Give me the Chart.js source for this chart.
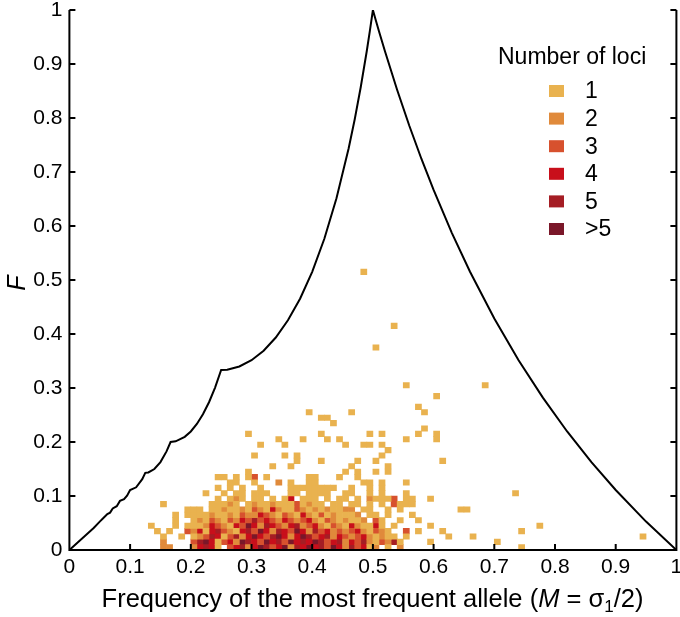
<!DOCTYPE html>
<html>
<head>
<meta charset="utf-8">
<script src="https://cdn.jsdelivr.net/npm/chart.js@4.4.1/dist/chart.umd.min.js"></script>
<style>
  html, body { margin: 0; padding: 0; background: #fff; }
  #wrap { position: relative; width: 680px; height: 617px; font-family: "Liberation Sans", Arial, sans-serif; color: #000; }
  #xTitle { position: absolute; left: 69px; width: 607px; top: 586px; text-align: center; font-size: 25.5px; line-height: 1; white-space: nowrap; }
  #xTitle sub { font-size: 17px; vertical-align: -5px; line-height: 0; }
  #yTitle { position: absolute; left: 3px; top: 270px; width: 26px; height: 26px; text-align: center; font-size: 25px; line-height: 26px; font-style: italic; transform: rotate(-90deg); }
</style>
</head>
<body>
<div id="wrap">
  <canvas id="chart" width="680" height="617"></canvas>
  <div id="xTitle">Frequency of the most frequent allele (<i>M</i> = σ<sub>1</sub>/2)</div>
  <div id="yTitle">F</div>
</div>
<script>
// ---- data ----
// left edges of the 0.01-wide bins used in the dense block
const mBins = [0.13,0.14,0.15,0.16,0.17,0.18,0.19,0.20,0.21,0.22,0.23,0.24,0.25,0.26,0.27,0.28,0.29,0.30,0.31,0.32,
               0.33,0.34,0.35,0.36,0.37,0.38,0.39,0.40,0.41,0.42,0.43,0.44,0.45,0.46,0.47,0.48,0.49,0.50,0.51,0.52,
               0.53,0.54,0.55,0.56,0.57,0.58,0.59,0.60,0.61,0.62];
// bottom edges of the bins, one per row of lociCounts
const fBins = [0.00,0.01,0.02,0.03,0.04,0.05,0.06,0.07,0.08,0.09,0.10,0.11,0.12,0.13];

// number of loci per bin (6 = more than 5), row k goes with fBins[k]
const lociCounts = [
  [0,0,2,2,0,0,0, 2,4,5,4,1,0,3,4,5,2, 4,6,5,3,4,6,2,5,4,6, 4,5,3,6,4,2,5,3,4,1, 2,0,1,0,2,0,0,0,0,0, 0,0,0],
  [0,0,2,0,0,0,0, 3,5,6,4,1,3,4,2,6,5, 4,3,6,4,5,3,6,4,5,4, 6,5,3,4,5,2,4,3,5,2, 1,3,2,5,1,0,0,0,0,1, 0,0,0],
  [0,0,1,0,0,1,0, 1,2,3,5,4,1,3,5,2,4, 6,4,3,5,6,4,2,4,6,5, 3,4,5,2,4,3,2,3,4,2, 1,2,1,1,0,1,0,0,0,0, 0,0,1],
  [0,1,0,1,0,0,3, 2,4,1,4,5,3,2,1,4,5, 3,6,4,2,5,4,3,6,4,2, 5,3,4,2,3,2,3,4,2,1, 3,2,1,0,0,3,0,1,0,0, 0,1,0],
  [1,0,0,0,1,0,1, 1,1,2,4,3,2,1,4,3,6, 4,2,5,4,3,2,4,5,2,3, 4,2,1,3,2,1,4,2,1,1, 4,1,0,1,0,0,0,0,0,1, 0,0,0],
  [0,0,0,0,1,0,0, 1,2,1,3,2,1,3,2,4,3, 5,3,4,3,2,4,3,2,3,4, 2,1,3,2,1,2,1,1,2,0, 3,1,0,0,1,0,0,1,0,0, 0,0,0],
  [0,0,0,0,1,0,1, 1,1,1,2,1,1,2,1,3,2, 2,4,3,2,1,3,2,1,4,2, 1,3,1,2,1,1,1,2,0,1, 1,0,1,0,0,0,1,0,0,0, 0,0,0],
  [0,0,0,0,0,0,1, 1,1,0,1,1,2,1,1,2,1, 3,2,1,4,2,1,1,3,2,1, 2,1,2,1,1,2,2,0,1,1, 0,0,1,0,1,0,0,0,0,0, 0,0,0],
  [0,0,1,0,0,0,0, 0,0,0,1,1,1,2,1,0,1, 2,1,1,2,1,1,1,3,1,2, 1,1,0,1,1,0,1,1,0,1, 0,1,0,3,1,1,1,0,0,0, 0,0,0],
  [0,0,0,0,0,0,0, 0,0,0,0,1,0,1,2,1,0, 1,1,0,1,0,1,4,0,1,1, 1,0,1,0,1,1,0,1,0,2, 1,1,1,3,0,1,1,0,0,1, 0,0,0],
  [0,0,0,0,0,0,0, 0,0,1,0,0,1,0,1,1,0, 1,1,1,0,0,0,1,1,0,1, 1,1,1,0,0,1,1,0,0,1, 0,1,0,0,0,1,0,0,0,0, 0,0,0],
  [0,0,0,0,0,0,0, 0,0,0,0,1,0,1,0,1,0, 0,1,0,0,0,0,1,1,1,1, 1,1,1,1,0,0,1,0,0,1, 0,1,0,0,0,0,0,0,0,0, 0,0,0],
  [0,0,0,0,0,0,0, 0,0,0,0,0,0,1,1,0,0, 1,0,0,0,2,0,1,0,0,1, 1,0,0,0,0,0,0,0,1,1, 0,1,0,0,0,1,0,0,0,0, 0,0,0],
  [0,0,0,0,0,0,0, 0,0,0,0,1,1,0,1,0,1, 3,0,1,0,0,0,0,0,0,1, 1,0,0,0,1,0,0,1,0,0, 0,0,0,0,0,0,0,0,0,0, 0,0,0]
];

// isolated bins holding a single locus (left / bottom edges)
const sparseM = [0.48,0.53,0.50,0.55,0.68,0.60,0.57,0.58,0.39,0.46,0.41,0.42,0.43,0.58,0.57,0.60,0.60,0.49,0.51,0.41,
                 0.29,0.34,0.38,0.42,0.44,0.55,0.31,0.35,0.45,0.48,0.49,0.51,0.52,0.30,0.35,0.37,0.51,0.37,0.41,0.47,
                 0.50,0.61,0.33,0.36,0.46,0.52,0.29,0.45,0.47,0.50,0.52,0.73,0.64,0.65,0.77,0.74,0.70,0.74,0.94,0.66];
const sparseF = [0.51,0.41,0.37,0.30,0.30,0.28,0.26,0.25,0.25,0.25,0.24,0.24,0.23,0.22,0.21,0.21,0.20,0.21,0.21,0.21,
                 0.21,0.20,0.20,0.20,0.20,0.20,0.19,0.19,0.19,0.19,0.19,0.19,0.18,0.17,0.17,0.17,0.17,0.16,0.16,0.16,
                 0.16,0.16,0.15,0.15,0.15,0.15,0.14,0.14,0.14,0.14,0.14,0.10,0.07,0.07,0.04,0.03,0.01,0.00,0.02,0.02];

// upper bound of F as a function of M
const boundM = [0,0.02,0.03,0.04,0.05,0.0556,0.0625,0.067,0.0714,0.078,0.0833,0.09,0.095,0.1,0.11,0.12,0.125,0.13,0.14,0.15,
                0.16,0.1667,0.175,0.19,0.2,0.21,0.22,0.23,0.24,0.25,0.26,0.28,0.3,0.32,0.34,0.36,0.38,0.4,0.42,0.44,
                0.46,0.47,0.48,0.49,0.495,0.5,0.505,0.51,0.52,0.54,0.56,0.58,0.6,0.63,0.66,0.7,0.74,0.78,0.82,0.86,
                0.9,0.95,1];
const boundF = [0,0.0204,0.0305,0.0408,0.0526,0.0588,0.0667,0.0692,0.0769,0.0811,0.0909,0.0941,0.1007,0.1111,0.1161,0.1312,0.1429,0.1436,0.15,0.1628,
                0.1826,0.2,0.2012,0.2095,0.2195,0.2334,0.2513,0.2736,0.3007,0.3333,0.334,0.3398,0.3514,0.3691,0.3935,0.4253,0.4654,0.5152,0.5763,0.6513,
                0.7434,0.7973,0.8574,0.9246,0.9612,1,0.9802,0.9608,0.9231,0.8519,0.7857,0.7241,0.6667,0.5873,0.5152,0.4286,0.3514,0.2821,0.2195,0.1628,
                0.1111,0.0526,0];

const lociLabels = ['1', '2', '3', '4', '5', '>5'];
const lociColors = ['#E9B24F', '#E08A3B', '#D7512E', '#C80F1B', '#A51D24', '#7A1729'];
const legendTitle = 'Number of loci';
const binWidth = 0.01;

// group the bins by count so every level gets its own colour
const levels = lociLabels.map(() => []);
lociCounts.forEach((row, r) => {
    row.forEach((n, c) => {
        if (n > 0) levels[n - 1].push({ x: mBins[c] + binWidth / 2, y: [fBins[r], fBins[r] + binWidth] });
    });
});
sparseM.forEach((m, k) => {
    levels[0].push({ x: m + binWidth / 2, y: [sparseF[k], sparseF[k] + binWidth] });
});

const FONT = '"Liberation Sans", Arial, sans-serif';

// box round the plot with inward tick marks
const frameTicks = {
    id: 'frameTicks',
    afterDatasetsDraw(chart) {
        const { ctx, chartArea: a, scales: { x, y } } = chart;
        ctx.save();
        ctx.strokeStyle = '#000';
        ctx.lineWidth = 2;
        ctx.beginPath();
        ctx.moveTo(a.left, a.top);
        ctx.lineTo(a.left, a.bottom);
        ctx.lineTo(a.right, a.bottom);
        ctx.lineTo(a.right, a.top);
        x.ticks.forEach(t => {
            const px = x.getPixelForValue(t.value);
            ctx.moveTo(px, a.bottom);
            ctx.lineTo(px, a.bottom - 6);
        });
        y.ticks.forEach(t => {
            const py = y.getPixelForValue(t.value);
            ctx.moveTo(a.left, py);
            ctx.lineTo(a.left + 6, py);
            ctx.moveTo(a.right, py);
            ctx.lineTo(a.right - 6, py);
        });
        ctx.stroke();
        ctx.restore();
    }
};

// legend inside the plot, upper right
const lociLegend = {
    id: 'lociLegend',
    afterDraw(chart) {
        const ctx = chart.ctx;
        ctx.save();
        ctx.font = '23px ' + FONT;
        ctx.fillStyle = '#000';
        ctx.textBaseline = 'alphabetic';
        ctx.fillText(legendTitle, 498, 64);
        ctx.textBaseline = 'middle';
        lociLabels.forEach((lab, k) => {
            const cy = 91 + k * 27.6;
            ctx.fillStyle = lociColors[k];
            ctx.fillRect(549, cy - 6, 15, 12);
            ctx.fillStyle = '#000';
            ctx.fillText(lab, 585, cy + 1);
        });
        ctx.restore();
    }
};

const datasets = [{
    type: 'line',
    label: 'bound',
    data: boundM.map((m, k) => ({ x: m, y: boundF[k] })),
    borderColor: '#000',
    borderWidth: 2,
    pointRadius: 0,
    tension: 0,
    order: 0
}];
levels.forEach((pts, k) => {
    datasets.push({
        type: 'bar',
        label: lociLabels[k],
        data: pts,
        backgroundColor: lociColors[k],
        borderWidth: 0,
        grouped: false,
        barPercentage: 1,
        categoryPercentage: 1,
        order: 1
    });
});

new Chart(document.getElementById('chart'), {
    type: 'bar',
    data: { datasets: datasets },
    options: {
        responsive: false,
        animation: false,
        devicePixelRatio: 1,
        layout: { padding: { top: 10, right: 3.6, bottom: 0, left: 0 } },
        plugins: { legend: { display: false }, tooltip: { enabled: false } },
        scales: {
            x: {
                type: 'linear',
                min: 0, max: 1,
                offset: false,
                grid: { display: false, drawTicks: false, offset: false },
                border: { display: false },
                ticks: {
                    stepSize: 0.1,
                    padding: 5,
                    color: '#000',
                    font: { family: FONT, size: 21 },
                    maxRotation: 0,
                    callback: v => String(parseFloat(v.toFixed(1)))
                },
                afterFit: s => { s.height = 67; s.paddingLeft = 0; s.paddingRight = 0; }
            },
            y: {
                type: 'linear',
                min: 0, max: 1,
                grid: { display: false, drawTicks: false },
                border: { display: false },
                ticks: {
                    stepSize: 0.1,
                    padding: 7,
                    color: '#000',
                    font: { family: FONT, size: 21 },
                    callback: v => String(parseFloat(v.toFixed(1)))
                },
                afterFit: s => { s.width = 69.4; s.paddingTop = 0; s.paddingBottom = 0; }
            }
        }
    },
    plugins: [frameTicks, lociLegend]
});
</script>
</body>
</html>
